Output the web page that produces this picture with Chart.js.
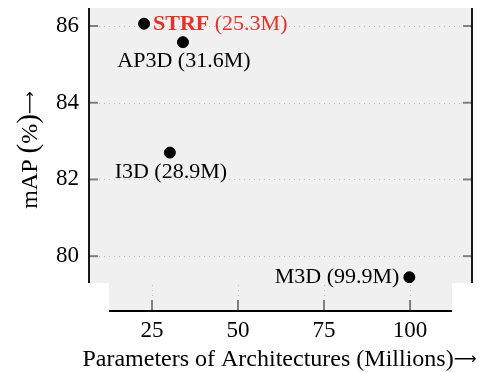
<!DOCTYPE html>
<html>
<head>
<meta charset="utf-8">
<script src="https://cdn.jsdelivr.net/npm/chart.js@4.4.1/dist/chart.umd.min.js"></script>
<style>
  html, body { margin: 0; padding: 0; background: #fff; }
  #wrap { width: 479px; height: 372px; }
</style>
</head>
<body>
<div id="wrap"><canvas id="chart" width="479" height="372"></canvas></div>
<script>
// данные
const models      = ['STRF', 'AP3D', 'I3D', 'M3D'];
const paramLabels = ['(25.3M)', '(31.6M)', '(28.9M)', '(99.9M)'];
const paramsX     = [22.7, 34.0, 30.2, 99.8];
const mapY        = [86.06, 85.58, 82.70, 79.45];
const xTicks      = [25, 50, 75, 100];
const yTicks      = [80, 82, 84, 86];
const xTitle      = 'Parameters of Architectures (Millions)';
const yTitle      = ['mAP ', '(', '%', ')'];

const FONT  = '"Liberation Serif", "Times New Roman", serif';
const ARROW = '"DejaVu Sans", sans-serif';
const RED   = 'rgb(232,48,38)';
const BG    = '#f0f0f0';
const TICK  = '#808080';

// где подпись относительно точки
const labelPlace = ['right', 'below', 'below', 'left'];

// рисует последовательность кусков [текст, шрифт] от x, возвращает ширину
function drawPieces(ctx, pieces, x, y, measureOnly) {
  let w = 0;
  pieces.forEach(([t, f, dy]) => {
    ctx.font = f;
    if (!measureOnly) ctx.fillText(t, x + w, y + (dy || 0));
    w += ctx.measureText(t).width;
  });
  return w;
}

const decor = {
  id: 'decor',
  beforeDraw(chart) {
    const { ctx, chartArea: a } = chart;
    const x = chart.scales.x, y = chart.scales.y;
    const axisY = a.bottom + 28;       // смещённая нижняя ось
    const bx0 = x.getPixelForValue(12.5), bx1 = x.getPixelForValue(112.2);
    ctx.save();
    ctx.fillStyle = BG;
    ctx.fillRect(a.left, a.top, a.right - a.left, a.bottom - a.top);
    ctx.fillRect(bx0, a.bottom - 1, bx1 - bx0, axisY - a.bottom + 1);

    // пунктирная сетка
    ctx.strokeStyle = '#bcbcbc';
    ctx.lineWidth = 1;
    ctx.setLineDash([1, 4]);
    yTicks.forEach(v => {
      const py = Math.round(y.getPixelForValue(v)) + 0.5;
      ctx.beginPath(); ctx.moveTo(a.left + 10, py); ctx.lineTo(a.right - 10, py); ctx.stroke();
    });
    xTicks.forEach(v => {
      const px = Math.round(x.getPixelForValue(v)) + 0.5;
      ctx.beginPath(); ctx.moveTo(px, a.bottom + 2); ctx.lineTo(px, axisY - 11); ctx.stroke();
    });
    ctx.setLineDash([]);

    // засечки
    ctx.strokeStyle = TICK;
    ctx.lineWidth = 2;
    yTicks.forEach(v => {
      const py = y.getPixelForValue(v);
      ctx.beginPath(); ctx.moveTo(a.left, py); ctx.lineTo(a.left + 9, py); ctx.stroke();
      ctx.beginPath(); ctx.moveTo(a.right - 9, py); ctx.lineTo(a.right, py); ctx.stroke();
    });
    xTicks.forEach(v => {
      const px = x.getPixelForValue(v);
      ctx.beginPath(); ctx.moveTo(px, axisY - 11); ctx.lineTo(px, axisY); ctx.stroke();
    });

    // линии осей
    ctx.strokeStyle = '#000';
    ctx.lineWidth = 1.8;
    ctx.beginPath();
    ctx.moveTo(a.left, a.top); ctx.lineTo(a.left, a.bottom);
    ctx.moveTo(a.right, a.top); ctx.lineTo(a.right, a.bottom);
    ctx.moveTo(bx0, axisY); ctx.lineTo(bx1, axisY);
    ctx.stroke();

    // подписи осей (стрелка отдельным шрифтом)
    ctx.fillStyle = '#000';
    ctx.textAlign = 'left';
    ctx.textBaseline = 'alphabetic';
    const xp = [[xTitle, '24px ' + FONT], ['\u27F6', '16px ' + ARROW, -2]];
    const xw = drawPieces(ctx, xp, 0, 0, true);
    drawPieces(ctx, xp, 279.5 - xw / 2, 366);

    const yp = [[yTitle[0], '24px ' + FONT], [yTitle[1], '29px ' + FONT], [yTitle[2], '24px ' + FONT],
                [yTitle[3], '29px ' + FONT], ['\u27F6', '16px ' + ARROW, -2]];
    const yw = drawPieces(ctx, yp, 0, 0, true);
    ctx.translate(37, 150);
    ctx.rotate(-Math.PI / 2);
    drawPieces(ctx, yp, -yw / 2, 0);
    ctx.restore();
  },
  afterDatasetsDraw(chart) {
    const { ctx } = chart;
    const x = chart.scales.x, y = chart.scales.y;
    ctx.save();
    ctx.textBaseline = 'alphabetic';
    models.forEach((m, i) => {
      const px = x.getPixelForValue(paramsX[i]);
      const py = y.getPixelForValue(mapY[i]);
      const txt = m + ' ' + paramLabels[i];
      ctx.fillStyle = '#000';
      ctx.font = '22px ' + FONT;
      if (labelPlace[i] === 'right') {
        ctx.fillStyle = RED;
        ctx.font = 'bold 22px ' + FONT;
        ctx.textAlign = 'left';
        ctx.fillText(m, px + 9, py + 6);
        const w = ctx.measureText(m + ' ').width;
        ctx.font = '22px ' + FONT;
        ctx.fillText(paramLabels[i], px + 9 + w, py + 6);
      } else if (labelPlace[i] === 'below') {
        ctx.textAlign = 'center';
        ctx.fillText(txt, px + 1, py + 25);
      } else {
        ctx.textAlign = 'right';
        ctx.fillText(txt, px - 10, py + 6);
      }
    });
    ctx.restore();
  }
};

new Chart(document.getElementById('chart'), {
  type: 'scatter',
  data: {
    datasets: [{
      data: paramsX.map((v, i) => ({ x: v, y: mapY[i] })),
      backgroundColor: '#000',
      borderColor: '#000',
      pointRadius: 5.5,
      pointHoverRadius: 5.5
    }]
  },
  options: {
    responsive: false,
    animation: false,
    layout: { padding: { left: 0, right: 7, top: 8, bottom: 0 } },
    plugins: { legend: { display: false }, tooltip: { enabled: false } },
    scales: {
      x: {
        type: 'linear',
        min: 6.7, max: 118,
        afterBuildTicks: s => { s.ticks = xTicks.map(v => ({ value: v })); },
        afterFit: s => { s.height = 89; s.paddingLeft = 0; s.paddingRight = 0; },
        grid: { display: false, drawTicks: false },
        border: { display: false },
        ticks: { color: '#000', padding: 34, font: { family: FONT, size: 23 } }
      },
      y: {
        min: 79.3, max: 86.47,
        afterBuildTicks: s => { s.ticks = yTicks.map(v => ({ value: v })); },
        afterFit: s => { s.width = 89; s.paddingTop = 0; s.paddingBottom = 0; },
        grid: { display: false, drawTicks: false },
        border: { display: false },
        ticks: { color: '#000', padding: 10, font: { family: FONT, size: 23 } }
      }
    }
  },
  plugins: [decor]
});
</script>
</body>
</html>
